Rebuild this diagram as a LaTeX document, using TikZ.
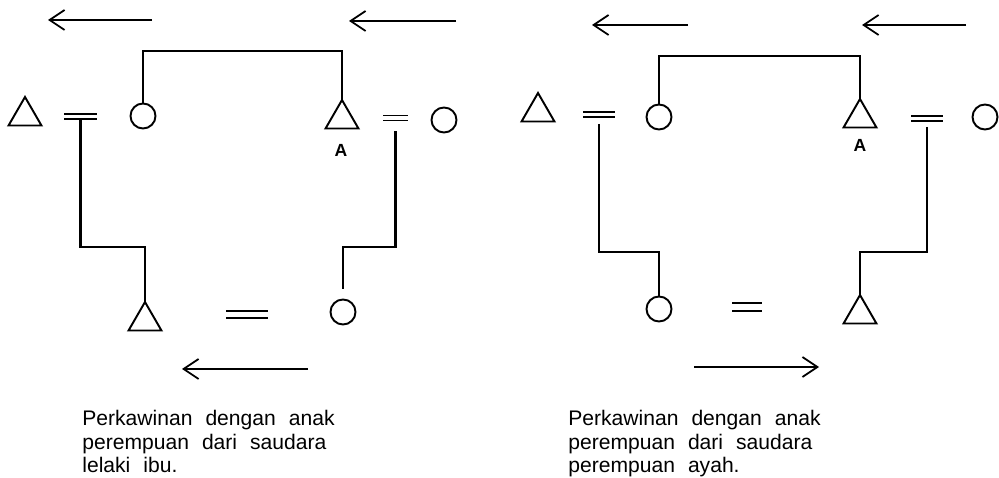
\documentclass[tikz,border=0pt]{standalone}
\usepackage{fontspec}
\setmainfont{Liberation Sans}
\newfontfamily\capfont{Liberation Sans}
\newcommand{\widesp}{\spaceskip=7.4pt plus 1pt minus 1pt\relax}
\usetikzlibrary{arrows.meta,shapes.geometric}

% marriage sign: an invisible box with two bars on its long sides
\newcommand{\wed}[4][0.1cm]{%
  \node[wedbox,minimum width=#4,minimum height=#1] (#2) at (#3) {};
  \draw[symb] (#2.north west) -- (#2.north east)
              (#2.south west) -- (#2.south east);}

\begin{document}
\begin{tikzpicture}[
    symb/.style={line width=1.1pt},
    male/.style={draw,symb,regular polygon,regular polygon sides=3,
                 minimum size=0.76cm,inner sep=0pt,outer sep=0pt},
    female/.style={draw,symb,circle,minimum size=0.5cm,
                   inner sep=0pt,outer sep=0pt},
    wedbox/.style={inner sep=0pt,outer sep=0pt},
    kin/.style={line width=1.4pt},
    flow/.style={line width=1pt,-{Straight Barb[length=0.3cm,width=0.4cm]}},
    caption/.style={anchor=north west,text width=7cm,align=left,inner sep=0pt,
                    font=\capfont\fontsize{12}{13.6}\selectfont},
    ego/.style={font=\bfseries\fontsize{10}{11}\selectfont},
  ]
  \useasboundingbox (0,0) rectangle (19.98,9.56);

  % --- left: mother's brother's daughter
  \node[male] (tL1) at (0.50,7.24) {};
  \wed{eqL1}{1.61,7.23}{0.66cm}
  \node[female] (cL1) at (2.86,7.24) {};
  \node[male] (tA1) at (6.84,7.18) {};
  \node[ego] (egoL) at (6.82,6.56) {A};
  \wed{eqL2}{7.91,7.20}{0.5cm}
  \node[female] (cL2) at (8.88,7.16) {};

  \node[male] (tL2) at (2.90,3.14) {};
  \wed[0.15cm]{eqL3}{4.94,3.27}{0.84cm}
  \node[female] (cL3) at (6.86,3.32) {};

  \coordinate (topL) at (0,8.54);
  \coordinate (lowL) at (0,4.62);
  \draw[kin] (cL1.north) -- (cL1.north |- topL) -| (tA1.north);
  \draw[kin] (eqL1.south) -- (eqL1.south |- lowL) -| (tL2.north);
  \draw[kin] ([yshift=-0.22cm]eqL2.south) -- (eqL2.south |- lowL)
    -| ([yshift=0.2cm]cL3.north);

  \coordinate (aL1s) at (3.04,9.16); \coordinate (aL1e) at (0.96,9.16);
  \coordinate (aL2s) at (9.12,9.14); \coordinate (aL2e) at (6.98,9.14);
  \coordinate (aL3s) at (6.16,2.18); \coordinate (aL3e) at (3.64,2.18);
  \draw[flow] (aL1s) -- (aL1e);
  \draw[flow] (aL2s) -- (aL2e);
  \draw[flow] (aL3s) -- (aL3e);

  \node[caption] (capL) at (1.64,1.37)
    {\widesp Perkawinan dengan anak\\perempuan dari saudara\\lelaki ibu.};

  % --- right: father's sister's daughter
  \node[male] (tR1) at (10.76,7.32) {};
  \wed{eqR1}{11.98,7.27}{0.64cm}
  \node[female] (cR1) at (13.18,7.22) {};
  \node[male] (tA2) at (17.20,7.20) {};
  \node[ego] (egoR) at (17.20,6.66) {A};
  \wed{eqR2}{18.54,7.19}{0.64cm}
  \node[female] (cR2) at (19.70,7.22) {};

  \node[female] (cR3) at (13.18,3.38) {};
  \wed[0.16cm]{eqR3}{14.94,3.42}{0.6cm}
  \node[male] (tR2) at (17.20,3.28) {};

  \coordinate (topR) at (0,8.44);
  \coordinate (lowR) at (0,4.52);
  \draw[kin] (cR1.north) -- (cR1.north |- topR) -| (tA2.north);
  \draw[kin] ([yshift=-0.14cm]eqR1.south) -- (eqR1.south |- lowR) -| (cR3.north);
  \draw[kin] ([yshift=-0.12cm]eqR2.south) -- (eqR2.south |- lowR) -| (tR2.north);

  \coordinate (aR1s) at (13.76,9.06); \coordinate (aR1e) at (11.84,9.06);
  \coordinate (aR2s) at (19.32,9.06); \coordinate (aR2e) at (17.24,9.06);
  \coordinate (aR3s) at (13.88,2.22); \coordinate (aR3e) at (16.38,2.22);
  \draw[flow] (aR1s) -- (aR1e);
  \draw[flow] (aR2s) -- (aR2e);
  \draw[flow] (aR3s) -- (aR3e);

  \node[caption] (capR) at (11.36,1.37)
    {\widesp Perkawinan dengan anak\\perempuan dari saudara\\perempuan ayah.};
\end{tikzpicture}
\end{document}
